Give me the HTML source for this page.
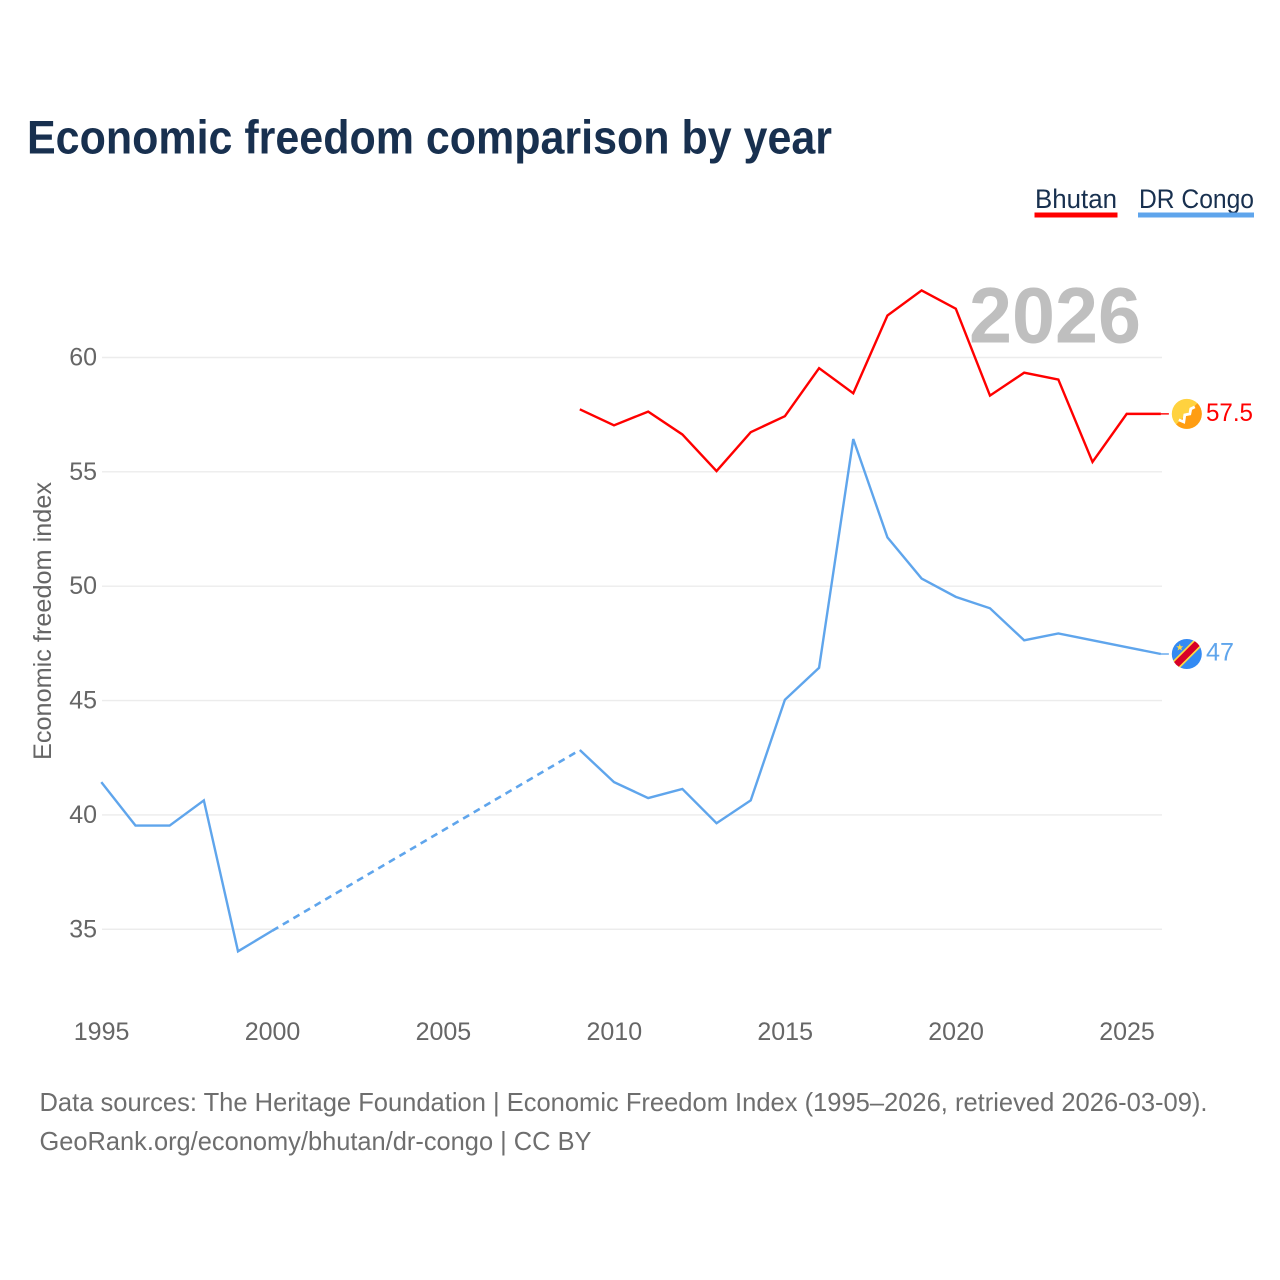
<!DOCTYPE html>
<html lang="en">
<head>
<meta charset="utf-8">
<title>Economic freedom comparison by year</title>
<style>
html,body{margin:0;padding:0;background:#fff;width:1280px;height:1280px;overflow:hidden}
svg{display:block;font-family:"Liberation Sans",sans-serif}
</style>
</head>
<body>
<svg id="chart" width="1280" height="1280" viewBox="0 0 1280 1280" xmlns="http://www.w3.org/2000/svg">
  <defs>
    <clipPath id="flag-clip-bt"><circle cx="0" cy="0" r="15"/></clipPath>
    <clipPath id="flag-clip-cd"><circle cx="0" cy="0" r="15"/></clipPath>
  </defs>
  <text x="27" y="153.5" font-size="47" font-weight="700" fill="#18304f" textLength="805" lengthAdjust="spacingAndGlyphs">Economic freedom comparison by year</text>

  <g>
    <g>
      <text x="1035" y="208" font-size="27" fill="#18304f" textLength="82" lengthAdjust="spacingAndGlyphs">Bhutan</text>
      <rect x="1034.5" y="212.5" width="83" height="5" fill="#ff0000"/>
    </g>
    <g>
      <text x="1139" y="208" font-size="27" fill="#18304f" textLength="115" lengthAdjust="spacingAndGlyphs">DR Congo</text>
      <rect x="1138" y="212.5" width="116" height="5" fill="#5fa5ec"/>
    </g>
  </g>

  <g id="grid"></g>
  <text x="969" y="342.5" font-size="79" font-weight="700" fill="#bfbfbf" textLength="172" lengthAdjust="spacingAndGlyphs">2026</text>
  <g id="yticks"></g>
  <g id="xticks"></g>
  <text transform="translate(51 621) rotate(-90)" text-anchor="middle" font-size="25" fill="#666" textLength="278" lengthAdjust="spacingAndGlyphs">Economic freedom index</text>
  <g id="series"></g>

  <g id="flag-bt">
    <g clip-path="url(#flag-clip-bt)">
      <rect x="-16" y="-16" width="32" height="32" fill="#ffd23f"/>
      <polygon points="16,-16 16,16 -16,16" fill="#ff9d12"/>
      <path d="M-8,6 L-3,8 L-2,1 L3,0 L4,-5 L8,-7" fill="none" stroke="#fff" stroke-width="2.8"/>
    </g>
  </g>
  <g id="flag-cd">
    <g clip-path="url(#flag-clip-cd)">
      <rect x="-16" y="-16" width="32" height="32" fill="#338af3"/>
      <line x1="-16" y1="16" x2="16" y2="-16" stroke="#ffda44" stroke-width="10"/>
      <line x1="-16" y1="16" x2="16" y2="-16" stroke="#d80027" stroke-width="6.6"/>
      <polygon points="-7,-10.2 -6.1,-7.7 -3.5,-7.6 -5.6,-6 -4.8,-3.5 -7,-5 -9.2,-3.5 -8.4,-6 -10.5,-7.6 -7.9,-7.7" fill="#ffda44"/>
    </g>
  </g>
  <text id="value-bt" x="1206" font-size="25" fill="#ff0000" textLength="47" lengthAdjust="spacingAndGlyphs"></text>
  <text id="value-cd" x="1206" font-size="25" fill="#5fa5ec" textLength="28" lengthAdjust="spacingAndGlyphs"></text>

  <g>
    <text x="39.5" y="1111" font-size="26" fill="#6e6e6e" textLength="1168" lengthAdjust="spacingAndGlyphs">Data sources: The Heritage Foundation | Economic Freedom Index (1995–2026, retrieved 2026-03-09).</text>
    <text x="39.5" y="1150" font-size="26" fill="#6e6e6e" textLength="552" lengthAdjust="spacingAndGlyphs">GeoRank.org/economy/bhutan/dr-congo | CC BY</text>
  </g>
</svg>
<script>
const years = [1995,1996,1997,1998,1999,2000,2001,2002,2003,2004,2005,2006,2007,2008,2009,2010,2011,2012,2013,2014,2015,2016,2017,2018,2019,2020,2021,2022,2023,2024,2025,2026];
const bhutanValues = [null,null,null,null,null,null,null,null,null,null,null,null,null,null,57.7,57.0,57.6,56.6,55.0,56.7,57.4,59.5,58.4,61.8,62.9,62.1,58.3,59.3,59.0,55.4,57.5,57.5];
const drCongoValues = [41.4,39.5,39.5,40.6,34.0,34.9,null,null,null,null,null,null,null,null,42.8,41.4,40.7,41.1,39.6,40.6,45.0,46.4,56.4,52.1,50.3,49.5,49.0,47.6,47.9,47.6,47.3,47.0];
const yTickValues = [35,40,45,50,55,60];
const xTickValues = [1995,2000,2005,2010,2015,2020,2025];

const SVG_NS = 'http://www.w3.org/2000/svg';
const RED = '#ff0000';
const BLUE = '#5fa5ec';

function xScale(year) {
  return 101.3 + (year - 1995) * 34.18;
}
function yScale(value) {
  return 357.5 + (60 - value) * 22.87;
}
function make(tag, attrs, parent) {
  const el = document.createElementNS(SVG_NS, tag);
  for (const key in attrs) {
    el.setAttribute(key, attrs[key]);
  }
  parent.appendChild(el);
  return el;
}

const MARK_SHIFT = -0.8;
const gridLayer = document.getElementById('grid');
const yTickLayer = document.getElementById('yticks');
const xTickLayer = document.getElementById('xticks');
const seriesLayer = document.getElementById('series');

yTickValues.forEach(function (tick) {
  const line = make('line', {x1: 102, x2: 1162, y1: yScale(tick), y2: yScale(tick), stroke: '#ececec', 'stroke-width': 1.4}, gridLayer);
  
  
  const label = make('text', {x: 97, y: yScale(tick) + 8, 'text-anchor': 'end', 'font-size': 25, fill: '#666'}, yTickLayer);
  
  
  label.textContent = tick;
});

xTickValues.forEach(function (tick) {
  const label = make('text', {x: xScale(tick) + 0.3, y: 1040, 'text-anchor': 'middle', 'font-size': 25, fill: '#666'}, xTickLayer);
  
  
  label.textContent = tick;
});

function drawSeries(name, values, color) {
  const known = [];
  values.forEach(function (value, i) {
    if (value !== null) {
      known.push({year: years[i], value: value});
    }
  });
  for (let i = 1; i < known.length; i++) {
    if (known[i].year - known[i - 1].year > 1) {
      const gap = make('line', {
        x1: xScale(known[i - 1].year), y1: yScale(known[i - 1].value) + MARK_SHIFT,
        x2: xScale(known[i].year), y2: yScale(known[i].value) + MARK_SHIFT,
        stroke: color, 'stroke-width': 2.6, 'stroke-dasharray': '7 5.3'
      }, seriesLayer);
      
      
    }
  }
  let d = '';
  let previousYear = null;
  known.forEach(function (point) {
    const command = (previousYear !== null && point.year - previousYear === 1) ? 'L' : 'M';
    d += command + xScale(point.year).toFixed(2) + ' ' + (yScale(point.value) + MARK_SHIFT).toFixed(2);
    previousYear = point.year;
  });
  const path = make('path', {d: d, fill: 'none', stroke: color, 'stroke-width': 2.4, 'stroke-linejoin': 'miter'}, seriesLayer);
  
  

  const last = known[known.length - 1];
  const endY = yScale(last.value) + MARK_SHIFT;
  const lead = make('line', {x1: xScale(last.year), x2: xScale(last.year) + 8, y1: endY, y2: endY, stroke: color, 'stroke-width': 1.4}, seriesLayer);
  
  
  return last;
}

const lastBhutan = drawSeries('bhutan', bhutanValues, RED);
const lastCongo = drawSeries('dr-congo', drCongoValues, BLUE);

document.getElementById('flag-bt').setAttribute('transform', 'translate(1186.8 ' + (yScale(lastBhutan.value) + MARK_SHIFT) + ')');
document.getElementById('flag-cd').setAttribute('transform', 'translate(1186.8 ' + (yScale(lastCongo.value) + MARK_SHIFT) + ')');

const valueBt = document.getElementById('value-bt');
valueBt.setAttribute('y', yScale(lastBhutan.value) + 6.5);
valueBt.textContent = lastBhutan.value;
const valueCd = document.getElementById('value-cd');
valueCd.setAttribute('y', yScale(lastCongo.value) + 5.5);
valueCd.textContent = lastCongo.value;
</script>
</body>
</html>
